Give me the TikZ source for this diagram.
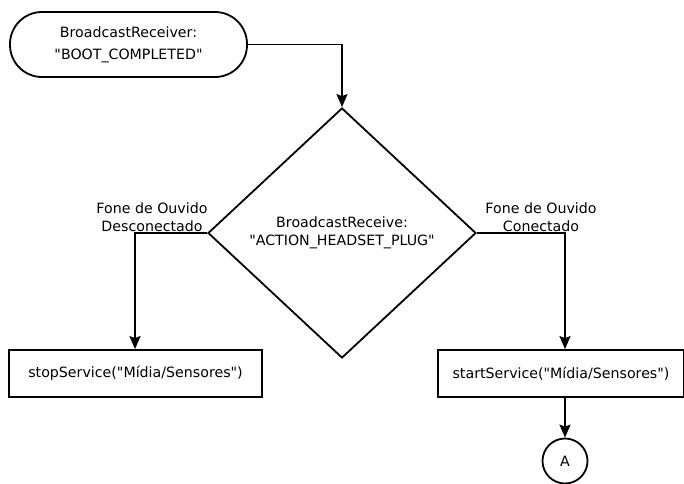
\documentclass[tikz,border=0pt]{standalone}
\usepackage{fontspec}
\setmainfont{DejaVu Sans}[Ligatures=TeXOff]
\usetikzlibrary{shapes.geometric,arrows.meta}
\begin{document}
\begin{tikzpicture}[x=1pt,y=-1pt,
  every node/.style={font=\fontsize{14.2}{18}\selectfont, align=center},
  shp/.style={draw, line width=1.8pt, inner sep=0pt},
  conn/.style={line width=1.8pt, -{Stealth[inset=2pt,length=13pt,width=11pt]}},
  lbl/.style={inner sep=0pt}]
\useasboundingbox (0,0) rectangle (684,483);
\node[shp, rounded corners=32pt, minimum width=237pt, minimum height=65pt] (start) at (128.5,44.5) {BroadcastReceiver:\\[4pt]"BOOT\_COMPLETED"};
\node[shp, diamond, minimum width=268pt, minimum height=250pt] (dec) at (342,233) {BroadcastReceive:\\"ACTION\_HEADSET\_PLUG"};
\node[shp, minimum width=253pt, minimum height=47pt] (stop) at (135.5,373.5) {stopService("Mídia/Sensores")};
\node[shp, minimum width=246pt, minimum height=47pt] (startS) at (561,373.5) {startService("Mídia/Sensores")};
\node[shp, circle, minimum size=45pt] (A) at (565,461) {A};
\node[lbl] (ldesc) at (152,217) {Fone de Ouvido\\Desconectado};
\node[lbl] (lconn) at (541,217) {Fone de Ouvido\\Conectado};
\coordinate (c1) at (342,44.5);
\coordinate (c2) at (135,233);
\coordinate (c3) at (565,233);
\draw[conn] (start.east) -- (c1) -- (dec.north);
\draw[conn] (dec.west) -- (c2) -- (c2 |- stop.north);
\draw[conn] (dec.east) -- (c3) -- (c3 |- startS.north);
\draw[conn] (startS.south -| A.north) -- (A.north);
\end{tikzpicture}
\end{document}
